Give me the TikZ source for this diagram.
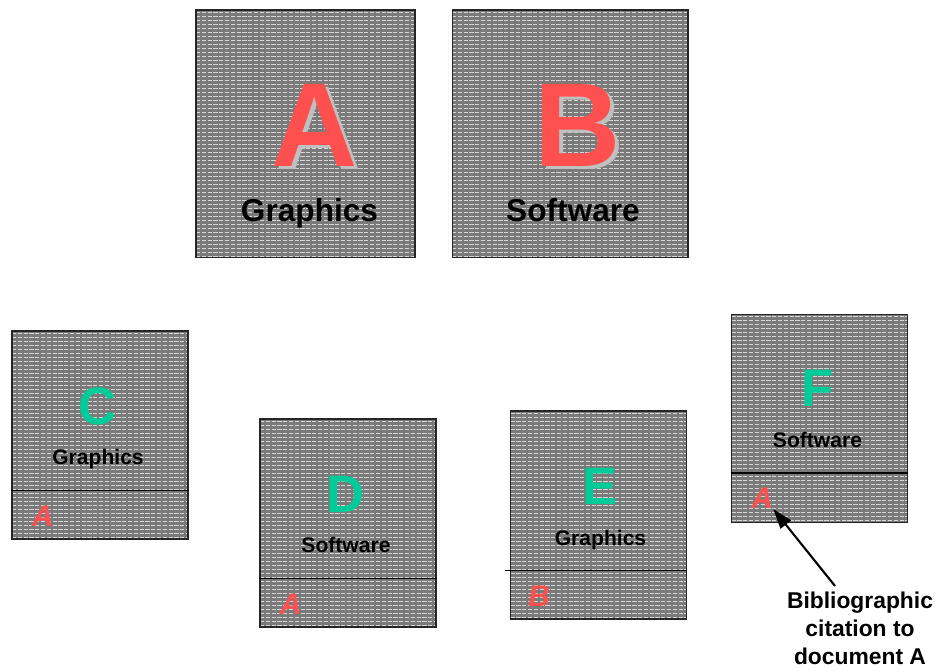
\documentclass[tikz,border=0pt]{standalone}
\usepackage{fontspec}
\setmainfont{Liberation Sans}
\usetikzlibrary{arrows.meta,positioning,calc}
\definecolor{cRed}{RGB}{255,80,80}
\definecolor{cGreen}{RGB}{0,204,153}
\definecolor{cShade}{RGB}{192,192,192}
\definecolor{cCard}{RGB}{122,122,122}
\definecolor{cHatch}{RGB}{215,215,215}
\tikzset{
    hatchline/.style={cHatch, line width=0.45pt, dash pattern=on 2.4pt off 0.9pt},
    card/.style={rectangle, draw=black!85, line width=0.6pt, fill=cCard,
        inner sep=0pt,
        path picture={
            \foreach \k in {1,...,66}
                \draw[hatchline]
                    ($(path picture bounding box.north west)+(0,\k*4-2)$) --
                    ($(path picture bounding box.north east)+(0,\k*4-2)$);
        }},
    bigcard/.style={card, minimum height=4.96cm},
    smallcard/.style={card, minimum width=3.52cm, minimum height=4.16cm},
    bigletter/.style={font=\fontsize{68}{68}\selectfont\bfseries, text=cRed,
        inner sep=0pt, anchor=base},
    bigshade/.style={bigletter, text=cShade},
    bigword/.style={font=\fontsize{18}{18}\selectfont\bfseries, inner sep=0pt,
        anchor=base},
    letter/.style={font=\fontsize{30}{30}\selectfont\bfseries, text=cGreen,
        inner sep=0pt, anchor=base},
    word/.style={font=\fontsize{12}{12}\selectfont\bfseries, inner sep=0pt,
        anchor=base},
    cite/.style={font=\fontsize{17}{17}\selectfont\bfseries\itshape, text=cRed,
        inner sep=0pt, anchor=base west},
    divider/.style={black, line width=0.7pt},
    arr/.style={-{Triangle[length=4mm,width=2.6mm]}, line width=1.2pt},
    lbl/.style={font=\fontsize{13}{15.8}\selectfont\bfseries, align=center,
        inner sep=0pt},
}
\begin{document}
\begin{tikzpicture}[x=0.02cm, y=-0.02cm]
\useasboundingbox (0,0) rectangle (939,671);

% ================================================================
%  TOP — source documents A and B
% ================================================================
\node[bigcard, minimum width=4.38cm] (a) at (305.5,134) {};
\node[bigcard, minimum width=4.72cm] (b) at (570,134) {};

\node[bigshade] (ashade) at ($(a.north)+(13,160)$) {A};
\node[bigletter] (aletter) at ($(a.north)+(9,157)$) {A};
\node[bigword] (aword) at ($(a.north)+(4,212)$) {Graphics};

\node[bigshade] (bshade) at ($(b.north)+(12,160)$) {B};
\node[bigletter] (bletter) at ($(b.north)+(8,157)$) {B};
\node[bigword] (bword) at ($(b.north)+(3,212)$) {Software};

% ================================================================
%  BOTTOM — citing documents C, D, E, F
% ================================================================
\node[smallcard] (c) at (100,435) {};
\node[letter] (cletter) at ($(c.north)+(-2,94)$) {C};
\node[word]   (cword)   at ($(c.north)+(-2,134)$) {Graphics};
\draw[divider] ($(c.north west)+(0,160)$) -- ($(c.north east)+(0,160)$);
\node[cite]   (ccite)   at ($(c.north west)+(20,196)$) {A};

\node[smallcard] (d) at (348,523) {};
\node[letter] (dletter) at ($(d.north)+(-2,94)$) {D};
\node[word]   (dword)   at ($(d.north)+(-2,134)$) {Software};
\draw[divider] ($(d.north west)+(0,160)$) -- ($(d.north east)+(0,160)$);
\node[cite]   (dcite)   at ($(d.north west)+(20,196)$) {A};

\node[smallcard] (e) at (598.5,515) {};
\node[letter] (eletter) at ($(e.north)+(2,94)$) {E};
\node[word]   (eword)   at ($(e.north)+(2,135)$) {Graphics};
\draw[divider] ($(e.north west)+(-5,160)$) -- ($(e.north east)+(0,160)$);
\node[cite]   (ecite)   at ($(e.north west)+(18,196)$) {B};

\node[smallcard] (f) at (819.5,418.5) {};
\node[letter] (fletter) at ($(f.north)+(-2,93)$) {F};
\node[word]   (fword)   at ($(f.north)+(-2,134)$) {Software};
\draw[divider] ($(f.north west)+(0,159)$) -- ($(f.north east)+(0,159)$);
\node[cite]   (fcite)   at ($(f.north west)+(20,195)$) {A};

% Label and arrow to the citation in F
\node[lbl, anchor=north] (note) at (860,592)
    {Bibliographic\\citation to\\document A};
\draw[arr] ($(note.north)+(-25,-6)$) -- (fcite.base east);

\end{tikzpicture}
\end{document}
